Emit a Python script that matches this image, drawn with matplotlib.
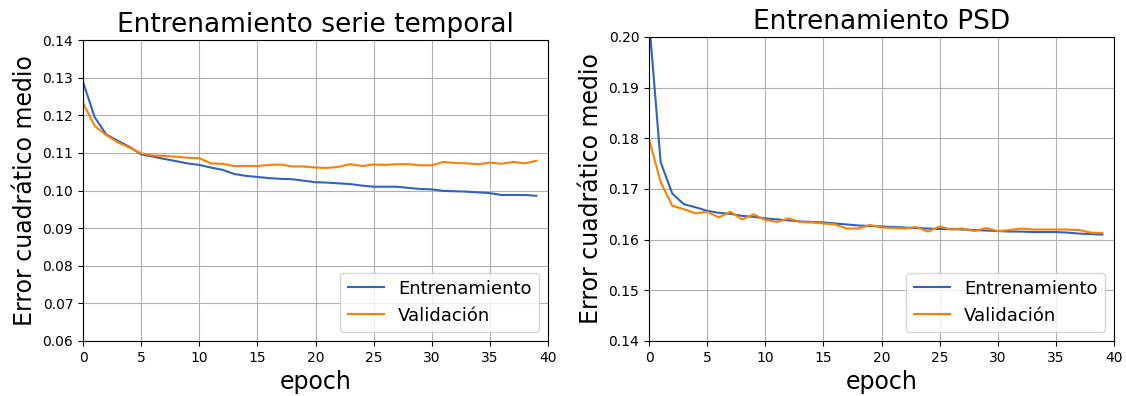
import numpy as np
import matplotlib.pyplot as plt

# Serie temporal
epochs = np.arange(40)
ent_serie = [0.1289, 0.1195, 0.1149, 0.1132, 0.1116, 0.1096, 0.1090, 0.1084, 0.1078, 0.1072,
             0.1068, 0.1061, 0.1055, 0.1044, 0.1039, 0.1036, 0.1033, 0.1031, 0.1030, 0.1026,
             0.1022, 0.1021, 0.1019, 0.1017, 0.1013, 0.1010, 0.1010, 0.1010, 0.1007, 0.1004,
             0.1003, 0.0999, 0.0998, 0.0997, 0.0995, 0.0993, 0.0988, 0.0988, 0.0988, 0.0986]
val_serie = [0.1233, 0.1172, 0.1147, 0.1128, 0.1114, 0.1099, 0.1093, 0.1092, 0.1090, 0.1087,
             0.1086, 0.1072, 0.1071, 0.1065, 0.1065, 0.1065, 0.1068, 0.1069, 0.1064, 0.1064,
             0.1061, 0.1060, 0.1063, 0.1070, 0.1065, 0.1069, 0.1068, 0.1070, 0.1070, 0.1067,
             0.1067, 0.1076, 0.1073, 0.1072, 0.1070, 0.1074, 0.1071, 0.1076, 0.1072, 0.1079]

# PSD
ent_psd = [0.2035, 0.1753, 0.1691, 0.1670, 0.1664, 0.1657, 0.1653, 0.1651, 0.1647, 0.1645,
           0.1642, 0.1640, 0.1638, 0.1636, 0.1635, 0.1634, 0.1632, 0.1630, 0.1628, 0.1627,
           0.1626, 0.1625, 0.1624, 0.1623, 0.1622, 0.1621, 0.1621, 0.1620, 0.1619, 0.1618,
           0.1617, 0.1616, 0.1616, 0.1615, 0.1615, 0.1615, 0.1614, 0.1612, 0.1611, 0.1610]
val_psd = [0.1799, 0.1714, 0.1667, 0.1660, 0.1652, 0.1655, 0.1644, 0.1655, 0.1640, 0.1650,
           0.1639, 0.1635, 0.1642, 0.1635, 0.1634, 0.1632, 0.1630, 0.1622, 0.1622, 0.1629,
           0.1624, 0.1623, 0.1622, 0.1625, 0.1616, 0.1626, 0.1620, 0.1622, 0.1617, 0.1623,
           0.1617, 0.1619, 0.1622, 0.1620, 0.1620, 0.1620, 0.1620, 0.1619, 0.1614, 0.1613]

azul = '#2f64c0'
naranja = '#ff8000'

fig = plt.figure(figsize=(11.26, 3.96), dpi=100)

ax1 = fig.add_axes([83 / 1126, 55 / 396, 465 / 1126, 301 / 396])
ax1.plot(epochs, ent_serie, color=azul, lw=1.5, label="Entrenamiento")
ax1.plot(epochs, val_serie, color=naranja, lw=1.5, label="Validación")
ax1.set_xlim(0, 40)
ax1.set_ylim(0.06, 0.14)
ax1.set_title("Entrenamiento serie temporal", fontsize=19)
ax1.set_xlabel("epoch", fontsize=17)
ax1.set_ylabel("Error cuadrático medio", fontsize=17)
ax1.grid()
ax1.legend(loc="lower right", fontsize=13)

ax2 = fig.add_axes([649 / 1126, 55 / 396, 465 / 1126, 304 / 396])
ax2.plot(epochs, ent_psd, color=azul, lw=1.5, label="Entrenamiento")
ax2.plot(epochs, val_psd, color=naranja, lw=1.5, label="Validación")
ax2.set_xlim(0, 40)
ax2.set_ylim(0.14, 0.20)
ax2.set_title("Entrenamiento PSD", fontsize=19)
ax2.set_xlabel("epoch", fontsize=17)
ax2.set_ylabel("Error cuadrático medio", fontsize=17)
ax2.grid()
ax2.legend(loc="lower right", fontsize=13)

fig.savefig("out.png", dpi=100)
